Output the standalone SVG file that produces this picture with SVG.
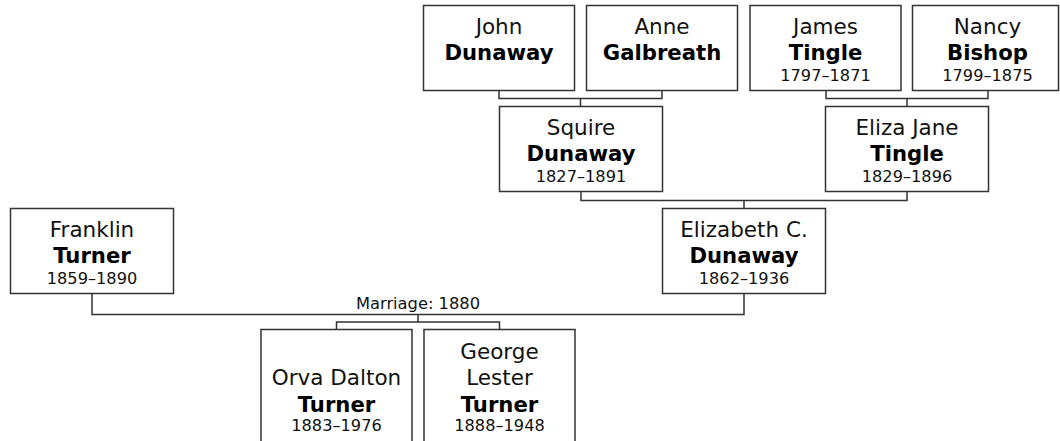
<svg xmlns="http://www.w3.org/2000/svg" width="1060" height="441" viewBox="0 0 1060 441">
<style>
.box{fill:#fff;stroke:#333;stroke-width:1.5}
.ln{fill:none;stroke:#333;stroke-width:1.5}
text{font-family:"DejaVu Sans",Verdana,sans-serif;text-anchor:middle;fill:#111}
.n{font-size:21.5px}
.b{font-size:21.2px;font-weight:bold;fill:#000}
.d{font-size:16.2px}
.m{font-size:16.3px}
</style>
<rect width="1060" height="441" fill="#fff"/>
<g id="connectors">
<path class="ln" d="M499 90.5V98.5H662V90.5M580.5 98.5V106.5"/>
<path class="ln" d="M826 90.5V98.5H988V90.5M907 98.5V106.5"/>
<path class="ln" d="M581 191.5V200.5H907V191.5M744 200.5V208.5"/>
<path class="ln" d="M92 293.5V314.5H744V293.5M418 314.5V322H336.5V329.5M418 322H499.5V329.5"/>
<text class="m" x="418" y="309">Marriage: 1880</text>
</g>
<g id="john">
<rect class="box" x="423.5" y="5.5" width="151" height="85"/>
<text class="n" x="499" y="33.5">John</text>
<text class="b" x="499" y="60">Dunaway</text>
</g>
<g id="anne">
<rect class="box" x="586.5" y="5.5" width="151" height="85"/>
<text class="n" x="662" y="33.5">Anne</text>
<text class="b" x="662" y="60">Galbreath</text>
</g>
<g id="james">
<rect class="box" x="750" y="5.5" width="151" height="85"/>
<text class="n" x="825.5" y="33.5">James</text>
<text class="b" x="825.5" y="60">Tingle</text>
<text class="d" x="825.5" y="81">1797–1871</text>
</g>
<g id="nancy">
<rect class="box" x="912.5" y="5.5" width="146" height="85"/>
<text class="n" x="987.5" y="33.5">Nancy</text>
<text class="b" x="987.5" y="60">Bishop</text>
<text class="d" x="987.5" y="81">1799–1875</text>
</g>
<g id="squire">
<rect class="box" x="499.5" y="106.5" width="163" height="85"/>
<text class="n" x="581" y="135">Squire</text>
<text class="b" x="581" y="161">Dunaway</text>
<text class="d" x="581" y="181.5">1827–1891</text>
</g>
<g id="eliza">
<rect class="box" x="825.5" y="106.5" width="163" height="85"/>
<text class="n" x="907" y="135">Eliza Jane</text>
<text class="b" x="907" y="161">Tingle</text>
<text class="d" x="907" y="181.5">1829–1896</text>
</g>
<g id="franklin">
<rect class="box" x="10.5" y="208.5" width="163" height="85"/>
<text class="n" x="92" y="237">Franklin</text>
<text class="b" x="92" y="263">Turner</text>
<text class="d" x="92" y="283.5">1859–1890</text>
</g>
<g id="elizabeth">
<rect class="box" x="662.5" y="208.5" width="163" height="85"/>
<text class="n" x="744" y="237">Elizabeth C.</text>
<text class="b" x="744" y="263">Dunaway</text>
<text class="d" x="744" y="283.5">1862–1936</text>
</g>
<g id="orva">
<rect class="box" x="261" y="329.5" width="151" height="130"/>
<text class="n" x="336.5" y="385">Orva Dalton</text>
<text class="b" x="336.5" y="411.5">Turner</text>
<text class="d" x="336.5" y="431">1883–1976</text>
</g>
<g id="george">
<rect class="box" x="424" y="329.5" width="151" height="130"/>
<text class="n" x="499.5" y="358.5">George</text>
<text class="n" x="499.5" y="385">Lester</text>
<text class="b" x="499.5" y="411.5">Turner</text>
<text class="d" x="499.5" y="431">1888–1948</text>
</g>
</svg>
